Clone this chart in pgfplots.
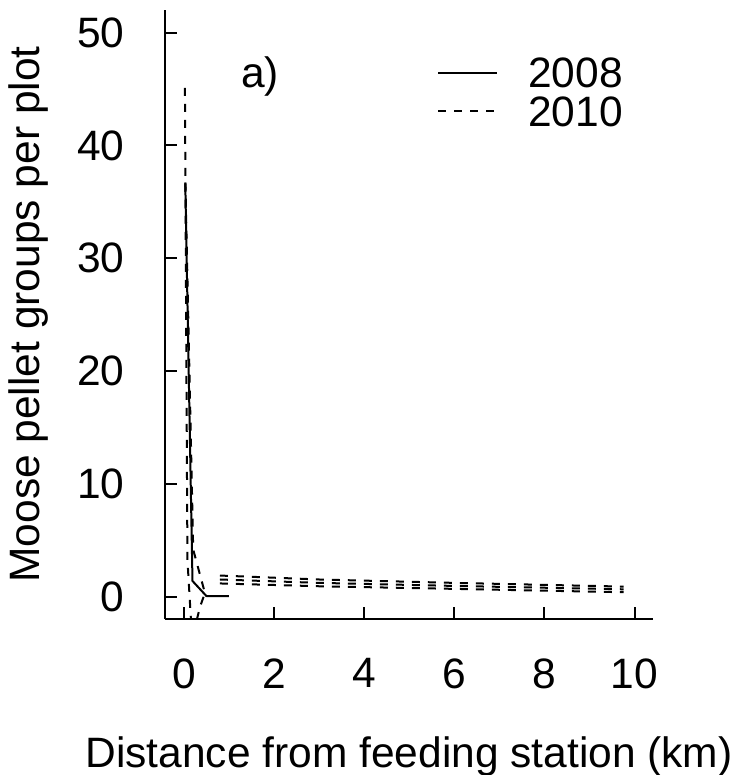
\documentclass[border=0pt]{standalone}
\usepackage{fontspec}
\setmainfont{Liberation Sans}
\usepackage{pgfplots}
\pgfplotsset{compat=1.18}
\newcommand{\rfont}{\fontsize{21.25bp}{25bp}\selectfont}

\begin{document}
\begin{tikzpicture}
\begin{axis}[
  at={(0,0)}, anchor=south west,
  scale only axis, width=244bp, height=304.5bp,
  xmin=-0.42, xmax=10.41, ymin=-1.95, ymax=52.0,
  axis x line*=bottom, axis y line*=left,
  axis line style={line width=1bp, -},
  xtick={0,2,...,10}, ytick={0,10,...,50},
  tick align=inside, major tick length=6bp,
  tick style={line width=1bp, black},
  /pgf/number format/assume math mode=true,
  ticklabel style={font=\rfont, inner sep=0pt},
  xticklabel style={anchor=north, yshift=-19.5bp},
  yticklabel style={anchor=east, xshift=-20bp},
  xlabel={Distance from feeding station (km)},
  ylabel={Moose pellet groups per plot},
  label style={font=\rfont, inner sep=0pt},
  xlabel style={at={(axis description cs:0.5,0)}, anchor=base, yshift=-74bp},
  ylabel style={at={(axis description cs:0,0.5)}, anchor=base, yshift=62.5bp},
  legend style={draw=none, fill=none, at={(axis cs:5.61,47.8)}, anchor=north west,
    inner sep=0pt, row sep=4.5bp, column sep=15bp, font=\rfont,
    nodes={inner sep=0pt, text depth=0pt}},
  legend cell align=left,
  legend image code/.code={\draw[#1] (0bp,0bp) -- (29.5bp,0bp);},
  every axis plot/.append style={black, line width=1bp, line join=round},
]
% 2008
\addplot[solid] coordinates {(0.03,36.7) (0.19,1.42) (0.50,0.08) (1.00,0.08)};
\addlegendentry{2008}
% 2010
\addplot[dash pattern=on 4bp off 4bp] coordinates {(0.022,45.1) (0.078,3.3) (0.155,-1.95)};
\addlegendentry{2010}
\addplot[dash pattern=on 4bp off 4bp, forget plot] coordinates {(0.033,36.7) (0.206,4.2) (0.466,0.35) (0.355,-0.9) (0.29,-1.95)};
\addplot[dash pattern=on 4bp off 4bp, forget plot] coordinates {(0.8,1.9) (3,1.55) (6,1.25) (9.76,0.92)};
\addplot[dash pattern=on 4bp off 4bp, forget plot] coordinates {(0.8,1.55) (3,1.25) (6,0.98) (9.76,0.68)};
\addplot[dash pattern=on 4bp off 4bp, forget plot] coordinates {(0.8,1.2) (3,0.95) (6,0.72) (9.76,0.42)};
\node[anchor=base, font=\rfont, inner sep=0pt] at (axis cs:1.69,45.1) {a)};
\end{axis}
\pgfresetboundingbox
\path (-82.5bp,-78bp) rectangle (285bp,309.5bp);
\end{tikzpicture}
\end{document}
